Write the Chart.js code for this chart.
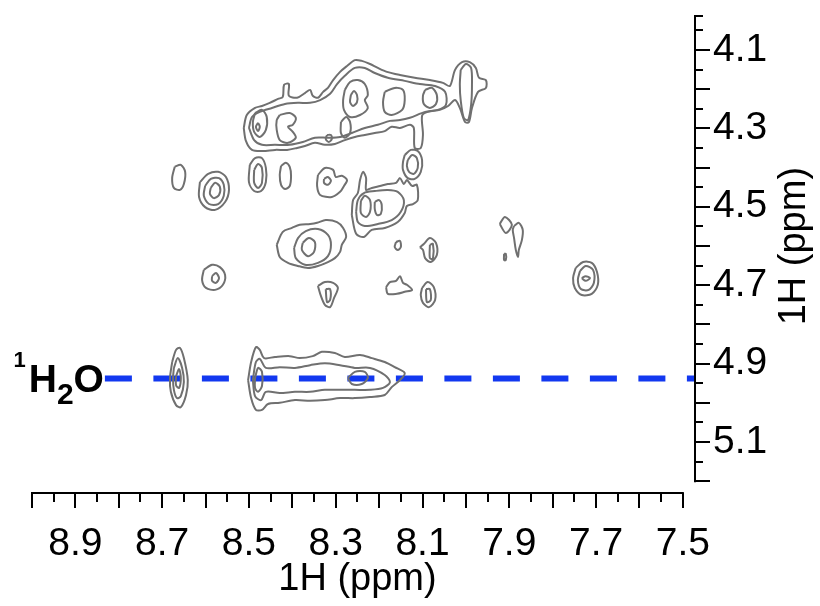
<!DOCTYPE html>
<html>
<head>
<meta charset="utf-8">
<script src="https://cdn.jsdelivr.net/npm/chart.js@4.4.1/dist/chart.umd.min.js"></script>
<style>
  html, body { margin: 0; padding: 0; background: #fff; }
</style>
</head>
<body>
<canvas id="noesy" width="820" height="606"></canvas>
<script>
// axis ranges and tick labels (ppm)
const xRange = [9.0, 7.5];
const xViewEnd = 7.472;          // chart area runs a bit past 7.5, up to the 1H axis
const yRange = [4.011, 5.2];
const yViewEnd = 5.23;
const xTicks = [8.9, 8.7, 8.5, 8.3, 8.1, 7.9, 7.7, 7.5];
const yTicks = [4.1, 4.3, 4.5, 4.7, 4.9, 5.1];

// water line
const waterPpm = 4.938;
const waterFrom = 8.832;
const waterLabel = ["1", "H", "2", "O"];

// contours, [x ppm, y ppm]
const bandOuter = [[8.512,4.299],[8.505,4.266],[8.486,4.248],[8.470,4.243],[8.452,4.235],[8.433,4.225],[8.422,4.220],[8.419,4.189],[8.408,4.187],[8.408,4.217],[8.389,4.222],[8.371,4.210],[8.359,4.202],[8.353,4.217],[8.341,4.222],[8.329,4.207],[8.318,4.197],[8.306,4.177],[8.290,4.156],[8.274,4.141],[8.256,4.126],[8.240,4.128],[8.221,4.136],[8.203,4.146],[8.182,4.156],[8.152,4.164],[8.118,4.171],[8.083,4.177],[8.053,4.184],[8.037,4.192],[8.025,4.151],[8.009,4.131],[7.991,4.131],[7.977,4.146],[7.970,4.171],[7.954,4.177],[7.954,4.197],[7.972,4.207],[7.986,4.248],[7.993,4.284],[8.002,4.284],[8.014,4.248],[8.025,4.228],[8.041,4.243],[8.060,4.253],[8.088,4.258],[8.101,4.268],[8.099,4.317],[8.104,4.350],[8.118,4.350],[8.120,4.299],[8.129,4.291],[8.152,4.299],[8.171,4.296],[8.187,4.307],[8.210,4.312],[8.233,4.317],[8.256,4.322],[8.279,4.330],[8.302,4.340],[8.325,4.342],[8.348,4.337],[8.371,4.345],[8.389,4.350],[8.412,4.355],[8.440,4.355],[8.468,4.358],[8.493,4.355],[8.507,4.332],[8.512,4.299]];
const bandMid = [[8.500,4.299],[8.493,4.271],[8.475,4.258],[8.447,4.248],[8.417,4.238],[8.387,4.235],[8.359,4.235],[8.336,4.228],[8.313,4.212],[8.297,4.187],[8.279,4.166],[8.256,4.146],[8.233,4.146],[8.210,4.159],[8.180,4.171],[8.141,4.179],[8.106,4.187],[8.071,4.192],[8.048,4.207],[8.046,4.240],[8.065,4.253],[8.094,4.258],[8.129,4.273],[8.152,4.279],[8.175,4.281],[8.203,4.291],[8.233,4.299],[8.263,4.312],[8.290,4.322],[8.318,4.324],[8.348,4.324],[8.376,4.335],[8.406,4.342],[8.440,4.342],[8.470,4.342],[8.488,4.330],[8.500,4.299]];
const bandRight = [[8.012,4.151],[8.000,4.136],[7.988,4.146],[7.986,4.189],[7.988,4.240],[7.995,4.279],[8.005,4.273],[8.012,4.228],[8.014,4.189],[8.012,4.151]];
const bandPeakA = [[8.486,4.261],[8.470,4.253],[8.459,4.271],[8.461,4.304],[8.475,4.322],[8.488,4.309],[8.491,4.284],[8.486,4.261]];
const bandPeakA2 = [[8.479,4.286],[8.475,4.296],[8.479,4.307],[8.484,4.296],[8.479,4.286]];
const bandPeakB = [[8.429,4.266],[8.406,4.261],[8.392,4.273],[8.399,4.291],[8.410,4.296],[8.399,4.309],[8.392,4.324],[8.410,4.337],[8.429,4.330],[8.436,4.304],[8.436,4.279],[8.429,4.266]];
const bandPeakC = [[8.288,4.284],[8.276,4.271],[8.267,4.284],[8.267,4.312],[8.279,4.324],[8.288,4.312],[8.288,4.284]];
const bandPeakC2 = [[8.320,4.317],[8.311,4.317],[8.309,4.327],[8.316,4.335],[8.323,4.327],[8.320,4.317]];
const bandPeakD = [[8.279,4.202],[8.267,4.182],[8.249,4.177],[8.233,4.187],[8.226,4.215],[8.233,4.228],[8.226,4.248],[8.244,4.266],[8.267,4.271],[8.281,4.253],[8.283,4.228],[8.279,4.202]];
const bandPeakD2 = [[8.265,4.215],[8.258,4.205],[8.251,4.215],[8.251,4.233],[8.260,4.243],[8.267,4.233],[8.265,4.215]];
const bandPeakE = [[8.187,4.207],[8.164,4.197],[8.145,4.202],[8.141,4.228],[8.147,4.253],[8.171,4.266],[8.187,4.258],[8.191,4.233],[8.187,4.207]];
const bandPeakF = [[8.094,4.202],[8.078,4.197],[8.067,4.215],[8.069,4.238],[8.083,4.248],[8.097,4.238],[8.099,4.217],[8.094,4.202]];

const peak1 = [[8.671,4.398],[8.657,4.393],[8.647,4.411],[8.650,4.442],[8.659,4.457],[8.673,4.452],[8.677,4.427],[8.671,4.398]];
const peak2Outer = [[8.613,4.437],[8.594,4.416],[8.571,4.411],[8.553,4.424],[8.546,4.457],[8.555,4.488],[8.578,4.508],[8.601,4.501],[8.615,4.475],[8.613,4.437]];
const peak2Mid = [[8.601,4.447],[8.588,4.429],[8.569,4.427],[8.558,4.444],[8.558,4.472],[8.571,4.493],[8.592,4.493],[8.604,4.472],[8.601,4.447]];
const peak2Inner = [[8.588,4.452],[8.578,4.439],[8.567,4.449],[8.569,4.470],[8.581,4.478],[8.590,4.467],[8.588,4.452]];
const peak3Outer = [[8.498,4.393],[8.486,4.376],[8.470,4.376],[8.461,4.401],[8.461,4.437],[8.472,4.460],[8.488,4.460],[8.500,4.437],[8.498,4.393]];
const peak3Inner = [[8.488,4.406],[8.479,4.391],[8.470,4.401],[8.470,4.439],[8.479,4.452],[8.488,4.439],[8.488,4.406]];
const peak4 = [[8.426,4.396],[8.415,4.388],[8.406,4.398],[8.403,4.421],[8.406,4.447],[8.417,4.455],[8.426,4.444],[8.429,4.419],[8.426,4.396]];
const peak5 = [[8.341,4.419],[8.325,4.401],[8.306,4.406],[8.300,4.424],[8.286,4.421],[8.274,4.432],[8.281,4.447],[8.290,4.462],[8.309,4.475],[8.336,4.470],[8.343,4.447],[8.341,4.419]];
const peak5Inner = [[8.327,4.429],[8.318,4.424],[8.311,4.434],[8.318,4.444],[8.327,4.439],[8.327,4.429]];
const clusterOuter = [[8.263,4.521],[8.260,4.483],[8.249,4.465],[8.244,4.432],[8.237,4.411],[8.230,4.427],[8.230,4.457],[8.217,4.452],[8.198,4.447],[8.180,4.442],[8.161,4.439],[8.152,4.427],[8.143,4.442],[8.136,4.432],[8.124,4.447],[8.113,4.444],[8.111,4.483],[8.122,4.493],[8.136,4.498],[8.141,4.516],[8.157,4.539],[8.187,4.554],[8.217,4.559],[8.235,4.577],[8.253,4.569],[8.263,4.521]];
const clusterMid = [[8.253,4.513],[8.249,4.483],[8.235,4.465],[8.210,4.460],[8.180,4.457],[8.157,4.462],[8.143,4.483],[8.150,4.513],[8.171,4.534],[8.203,4.544],[8.233,4.549],[8.249,4.539],[8.253,4.513]];
const clusterInnerA = [[8.242,4.485],[8.233,4.472],[8.221,4.483],[8.221,4.513],[8.230,4.526],[8.242,4.516],[8.242,4.485]];
const clusterInnerB = [[8.210,4.488],[8.200,4.483],[8.194,4.495],[8.196,4.518],[8.205,4.521],[8.210,4.506],[8.210,4.488]];
const peak7Outer = [[8.141,4.368],[8.127,4.355],[8.111,4.358],[8.101,4.381],[8.104,4.411],[8.118,4.429],[8.134,4.427],[8.145,4.406],[8.145,4.386],[8.141,4.368]];
const peak7Inner = [[8.134,4.381],[8.124,4.368],[8.113,4.376],[8.111,4.401],[8.120,4.416],[8.131,4.411],[8.136,4.396],[8.134,4.381]];
const peak8Outer = [[8.436,4.597],[8.422,4.564],[8.401,4.554],[8.383,4.546],[8.359,4.544],[8.343,4.541],[8.323,4.534],[8.297,4.539],[8.283,4.554],[8.276,4.577],[8.286,4.597],[8.290,4.615],[8.302,4.631],[8.318,4.641],[8.341,4.651],[8.364,4.656],[8.387,4.651],[8.410,4.643],[8.429,4.628],[8.436,4.597]];
const peak8Mid = [[8.396,4.605],[8.387,4.580],[8.369,4.562],[8.341,4.557],[8.318,4.572],[8.311,4.597],[8.318,4.626],[8.341,4.643],[8.371,4.648],[8.392,4.631],[8.396,4.605]];
const peak8Inner = [[8.376,4.592],[8.362,4.580],[8.348,4.590],[8.350,4.615],[8.364,4.626],[8.378,4.610],[8.376,4.592]];
const peak9Outer = [[8.604,4.661],[8.585,4.648],[8.567,4.654],[8.555,4.674],[8.560,4.699],[8.578,4.712],[8.599,4.707],[8.608,4.687],[8.604,4.661]];
const peak9Inner = [[8.585,4.677],[8.576,4.669],[8.569,4.682],[8.576,4.694],[8.585,4.689],[8.585,4.677]];
const peak10Outer = [[8.341,4.702],[8.325,4.692],[8.306,4.694],[8.295,4.707],[8.304,4.733],[8.313,4.756],[8.325,4.750],[8.334,4.728],[8.341,4.702]];
const peak10Inner = [[8.323,4.710],[8.313,4.710],[8.313,4.738],[8.320,4.743],[8.323,4.710]];
const peak11 = [[8.184,4.705],[8.175,4.692],[8.161,4.689],[8.152,4.677],[8.145,4.694],[8.136,4.699],[8.124,4.712],[8.141,4.717],[8.159,4.722],[8.180,4.722],[8.184,4.705]];
const peak12Outer = [[8.101,4.707],[8.088,4.692],[8.074,4.705],[8.071,4.738],[8.085,4.756],[8.099,4.745],[8.104,4.725],[8.101,4.707]];
const peak12Inner = [[8.092,4.710],[8.083,4.710],[8.081,4.738],[8.090,4.743],[8.092,4.710]];
const peak13Outer = [[8.106,4.603],[8.097,4.595],[8.083,4.580],[8.069,4.592],[8.067,4.623],[8.081,4.641],[8.094,4.631],[8.099,4.610],[8.106,4.603]];
const peak13Inner = [[8.083,4.597],[8.076,4.595],[8.076,4.633],[8.083,4.631],[8.083,4.597]];
const peak14 = [[8.161,4.590],[8.152,4.587],[8.150,4.603],[8.157,4.610],[8.164,4.603],[8.161,4.590]];
const peak15 = [[7.922,4.544],[7.910,4.526],[7.894,4.546],[7.908,4.567],[7.922,4.544]];
const peak16 = [[7.889,4.549],[7.878,4.541],[7.869,4.559],[7.871,4.585],[7.878,4.610],[7.880,4.628],[7.885,4.610],[7.889,4.580],[7.892,4.559],[7.889,4.549]];
const peak17 = [[7.912,4.620],[7.908,4.620],[7.908,4.636],[7.912,4.636],[7.912,4.620]];
const peak18Outer = [[7.747,4.656],[7.730,4.641],[7.710,4.643],[7.698,4.666],[7.696,4.699],[7.710,4.722],[7.733,4.725],[7.749,4.707],[7.753,4.682],[7.747,4.656]];
const peak18Mid = [[7.737,4.664],[7.724,4.651],[7.707,4.661],[7.705,4.694],[7.717,4.712],[7.735,4.710],[7.742,4.687],[7.737,4.664]];
const peak18Inner = [[7.733,4.682],[7.724,4.677],[7.714,4.682],[7.724,4.689],[7.733,4.682]];
const water1Outer = [[8.677,4.896],[8.668,4.865],[8.659,4.860],[8.650,4.886],[8.641,4.942],[8.645,4.980],[8.657,5.011],[8.668,5.006],[8.680,4.972],[8.682,4.937],[8.677,4.896]];
const water1Mid = [[8.673,4.911],[8.664,4.886],[8.654,4.911],[8.650,4.947],[8.657,4.983],[8.666,4.988],[8.673,4.967],[8.675,4.937],[8.673,4.911]];
const water1Inner = [[8.668,4.932],[8.661,4.914],[8.657,4.937],[8.661,4.962],[8.668,4.955],[8.668,4.932]];
const water2Outer = [[8.502,4.942],[8.495,4.896],[8.484,4.858],[8.475,4.865],[8.465,4.886],[8.440,4.883],[8.406,4.881],[8.383,4.886],[8.353,4.881],[8.332,4.870],[8.302,4.873],[8.279,4.883],[8.244,4.878],[8.217,4.886],[8.187,4.896],[8.164,4.909],[8.141,4.924],[8.152,4.942],[8.171,4.960],[8.187,4.980],[8.221,4.985],[8.256,4.988],[8.290,4.988],[8.325,4.993],[8.359,4.995],[8.394,4.993],[8.429,5.000],[8.456,5.003],[8.470,5.018],[8.484,5.018],[8.495,4.988],[8.502,4.942]];
const water2Mid = [[8.491,4.942],[8.484,4.896],[8.475,4.888],[8.461,4.911],[8.429,4.909],[8.394,4.911],[8.359,4.904],[8.325,4.899],[8.290,4.904],[8.256,4.911],[8.221,4.911],[8.187,4.929],[8.175,4.947],[8.191,4.962],[8.221,4.967],[8.256,4.967],[8.290,4.967],[8.325,4.967],[8.359,4.972],[8.394,4.972],[8.429,4.975],[8.461,4.972],[8.472,4.993],[8.486,4.983],[8.491,4.942]];
const water2InnerA = [[8.486,4.937],[8.479,4.911],[8.470,4.921],[8.470,4.957],[8.479,4.972],[8.486,4.962],[8.486,4.937]];
const water2InnerB = [[8.272,4.937],[8.256,4.921],[8.233,4.921],[8.226,4.937],[8.240,4.952],[8.263,4.952],[8.272,4.937]];

const contours = [
  bandOuter, bandMid, bandRight, bandPeakA, bandPeakA2, bandPeakB, bandPeakC, bandPeakC2,
  bandPeakD, bandPeakD2, bandPeakE, bandPeakF,
  peak1, peak2Outer, peak2Mid, peak2Inner, peak3Outer, peak3Inner, peak4, peak5, peak5Inner,
  clusterOuter, clusterMid, clusterInnerA, clusterInnerB, peak7Outer, peak7Inner,
  peak8Outer, peak8Mid, peak8Inner, peak9Outer, peak9Inner, peak10Outer, peak10Inner,
  peak11, peak12Outer, peak12Inner, peak13Outer, peak13Inner, peak14, peak15, peak16, peak17,
  peak18Outer, peak18Mid, peak18Inner,
  water1Outer, water1Mid, water1Inner, water2Outer, water2Mid, water2InnerA, water2InnerB
];

const FONT = "'Liberation Sans', Arial, Helvetica, sans-serif";

// axis lines, tick marks, titles and the water label
const nmrAxes = {
  id: "nmrAxes",
  afterDraw(chart) {
    const { ctx, chartArea } = chart;
    const xs = chart.scales.x, ys = chart.scales.y;
    ctx.save();
    ctx.strokeStyle = "#000";
    ctx.lineWidth = 2;

    // bottom 1H axis
    const by = chartArea.bottom;
    ctx.beginPath();
    ctx.moveTo(xs.getPixelForValue(xRange[0]) - 1, by);
    ctx.lineTo(xs.getPixelForValue(xRange[1]) + 1, by);
    const nx = Math.round((xRange[0] - xRange[1]) / 0.05);
    for (let i = 0; i <= nx; i++) {
      const px = Math.round(xs.getPixelForValue(xRange[0] - i * 0.05));
      ctx.moveTo(px, by);
      ctx.lineTo(px, by + (i % 2 ? 9 : 15));
    }
    ctx.stroke();

    // right 1H axis
    const rx = chartArea.right;
    const yTop = ys.getPixelForValue(yRange[0]);
    const yBot = ys.getPixelForValue(yRange[1]);
    ctx.beginPath();
    ctx.moveTo(rx, yTop);
    ctx.lineTo(rx, yBot + 1);
    ctx.moveTo(rx, yTop + 1);
    ctx.lineTo(rx + 8, yTop + 1);
    for (let i = 1; i <= 24; i++) {
      const v = 4.0 + i * 0.05;
      const py = Math.round(ys.getPixelForValue(v));
      ctx.moveTo(rx, py);
      ctx.lineTo(rx + (i % 2 ? 8 : 15), py);
    }
    ctx.stroke();

    // titles
    ctx.fillStyle = "#000";
    ctx.font = "38px " + FONT;
    ctx.textAlign = "center";
    ctx.textBaseline = "alphabetic";
    const xMid = (xs.getPixelForValue(xRange[0]) + xs.getPixelForValue(xRange[1])) / 2;
    ctx.fillText("1H (ppm)", xMid, by + 97);
    ctx.save();
    ctx.translate(rx + 110, (yTop + yBot) / 2 - 2);
    ctx.rotate(-Math.PI / 2);
    ctx.fillText("1H (ppm)", 0, 0);
    ctx.restore();

    // 1H2O label, right aligned to the start of the dashed line
    const wy = ys.getPixelForValue(waterPpm);
    let cx = xs.getPixelForValue(waterFrom) - 1;
    ctx.textAlign = "right";
    const parts = [
      [waterLabel[3], 39, 14],
      [waterLabel[2], 30, 26],
      [waterLabel[1], 39, 14],
      [waterLabel[0], 22, -11]
    ];
    parts.forEach(([t, size, dy], k) => {
      ctx.font = "bold " + size + "px " + FONT;
      if (k === 3) cx -= 3;
      ctx.fillText(t, cx, wy + dy);
      cx -= ctx.measureText(t).width;
    });
    ctx.restore();
  }
};

const contourSets = contours.map((c) => ({
  data: c.map((p) => ({ x: p[0], y: p[1] })),
  showLine: true,
  borderColor: "#707070",
  borderWidth: 2,
  pointRadius: 0,
  tension: 0.3,
  fill: false
}));

const waterSet = {
  data: [{ x: waterFrom, y: waterPpm }, { x: xViewEnd, y: waterPpm }],
  showLine: true,
  borderColor: "rgb(18, 56, 240)",
  borderWidth: 6,
  borderDash: [27, 21.5],
  borderCapStyle: "butt",
  pointRadius: 0,
  tension: 0,
  fill: false
};

new Chart(document.getElementById("noesy"), {
  type: "scatter",
  data: { datasets: [...contourSets, waterSet] },
  options: {
    responsive: false,
    animation: false,
    layout: { padding: { left: 32, top: 15, right: 0, bottom: 0 } },
    plugins: { legend: { display: false }, tooltip: { enabled: false } },
    scales: {
      x: {
        type: "linear",
        position: "bottom",
        reverse: true,
        min: xViewEnd,
        max: xRange[0],
        afterBuildTicks: (s) => { s.ticks = xTicks.map((v) => ({ value: v })); },
        afterFit: (s) => { s.height = 113; s.paddingLeft = 0; s.paddingRight = 0; },
        grid: { display: false, drawTicks: false },
        border: { display: false },
        ticks: {
          color: "#000",
          font: { family: FONT, size: 39 },
          padding: 28,
          maxRotation: 0,
          autoSkip: false,
          callback: (v) => Number(v).toFixed(1)
        }
      },
      y: {
        type: "linear",
        position: "right",
        reverse: true,
        min: yRange[0],
        max: yViewEnd,
        afterBuildTicks: (s) => { s.ticks = yTicks.map((v) => ({ value: v })); },
        afterFit: (s) => { s.width = 125; s.paddingTop = 0; s.paddingBottom = 0; },
        grid: { display: false, drawTicks: false },
        border: { display: false },
        ticks: {
          color: "#000",
          font: { family: FONT, size: 39 },
          padding: 18,
          autoSkip: false,
          callback: (v) => Number(v).toFixed(1)
        }
      }
    }
  },
  plugins: [nmrAxes]
});
</script>
</body>
</html>
